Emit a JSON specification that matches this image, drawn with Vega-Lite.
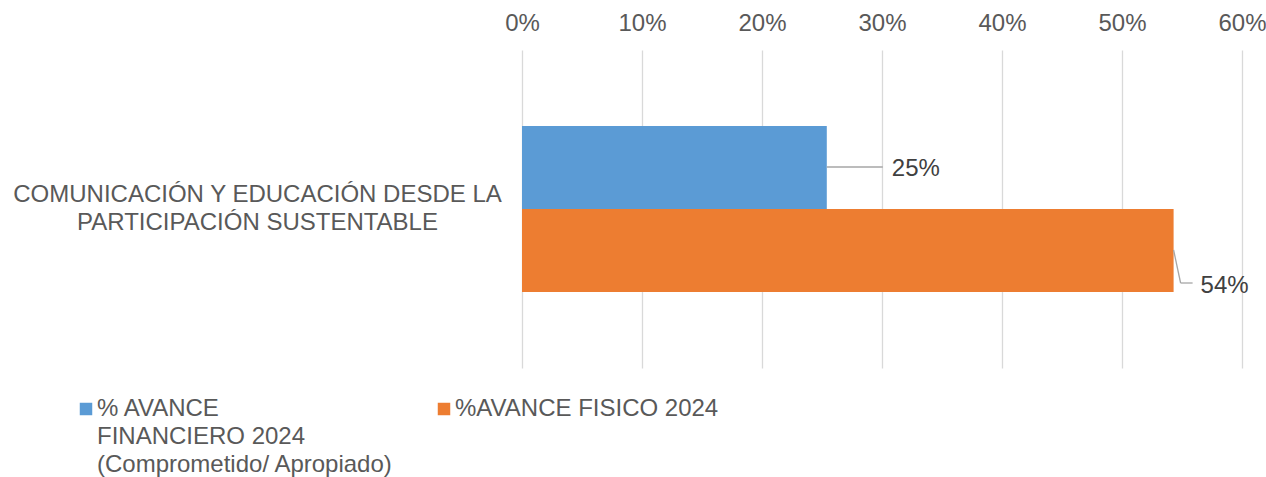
{
  "$schema": "https://vega.github.io/schema/vega-lite/v6.json",
  "width": 720,
  "height": 318,
  "autosize": "none",
  "padding": {"left": 522, "top": 50, "right": 24, "bottom": 109},
  "background": "white",
  "config": {
    "view": {"stroke": null},
    "font": "Liberation Sans",
    "style": {"guide-label": {"lineHeight": 28}}
  },
  "data": {
    "values": [
      {"categoria": "COMUNICACIÓN Y EDUCACIÓN DESDE LA PARTICIPACIÓN SUSTENTABLE", "serie": "% AVANCE FINANCIERO 2024 (Comprometido/ Apropiado)", "valor": 0.254},
      {"categoria": "COMUNICACIÓN Y EDUCACIÓN DESDE LA PARTICIPACIÓN SUSTENTABLE", "serie": "%AVANCE FISICO 2024", "valor": 0.543}
    ]
  },
  "layer": [
    {
      "mark": {"type": "bar"},
      "encoding": {
        "y": {
          "field": "categoria",
          "type": "nominal",
          "scale": {"paddingInner": 0, "paddingOuter": 0.458},
          "axis": {
            "title": null,
            "domain": false,
            "ticks": false,
            "labelFontSize": 24,
            "labelColor": "#595959",
            "labelLimit": 700,
            "labelAlign": "center",
            "labelBaseline": "middle",
            "labelPadding": 265,
            "labelOffset": -14,
            "labelLineHeight": 28,
            "labelExpr": "[slice(datum.label, 0, 33), slice(datum.label, 34)]"
          }
        },
        "yOffset": {
          "field": "serie",
          "sort": ["% AVANCE FINANCIERO 2024 (Comprometido/ Apropiado)", "%AVANCE FISICO 2024"],
          "scale": {"paddingInner": 0, "paddingOuter": 0}
        },
        "x": {
          "field": "valor",
          "type": "quantitative",
          "scale": {"domain": [0, 0.6], "nice": false},
          "axis": {
            "orient": "top",
            "title": null,
            "format": ".0%",
            "values": [0, 0.1, 0.2, 0.3, 0.4, 0.5, 0.6],
            "domain": false,
            "ticks": false,
            "labelFontSize": 24,
            "labelColor": "#595959",
            "labelPadding": 15,
            "labelFlush": false,
            "labelOverlap": false,
            "gridColor": "#D9D9D9",
            "gridWidth": 1.3
          }
        },
        "color": {
          "field": "serie",
          "type": "nominal",
          "scale": {
            "domain": ["% AVANCE FINANCIERO 2024 (Comprometido/ Apropiado)", "%AVANCE FISICO 2024"],
            "range": ["#5B9BD5", "#ED7D31"]
          },
          "legend": {
            "orient": "none",
            "legendX": -448,
            "legendY": 347,
            "direction": "horizontal",
            "title": null,
            "symbolType": "square",
            "symbolSize": 156,
            "symbolStrokeWidth": 0,
            "labelFontSize": 24,
            "labelColor": "#595959",
            "labelLimit": 600,
            "labelOffset": -1,
            "columnPadding": 38,
            "labelExpr": "datum.label == '%AVANCE FISICO 2024' ? [datum.label, '', ''] : ['% AVANCE', 'FINANCIERO 2024', '(Comprometido/ Apropiado)']"
          }
        }
      }
    },
    {
      "transform": [{"filter": "datum.serie == '%AVANCE FISICO 2024'"}],
      "mark": {"type": "rule", "color": "#A6A6A6", "strokeWidth": 1.3, "x2Offset": 7, "yOffset": 41, "y2Offset": 74},
      "encoding": {
        "x": {"field": "valor", "type": "quantitative"},
        "x2": {"field": "valor"},
        "y": {"field": "categoria", "type": "nominal"},
        "y2": {"field": "categoria", "bandPosition": 0.5}
      }
    },
    {
      "transform": [{"filter": "datum.serie == '%AVANCE FISICO 2024'"}],
      "mark": {"type": "rule", "color": "#A6A6A6", "strokeWidth": 1.3, "xOffset": 7, "x2Offset": 19, "yOffset": 74},
      "encoding": {
        "x": {"field": "valor", "type": "quantitative"},
        "x2": {"field": "valor"},
        "y": {"field": "categoria", "type": "nominal"}
      }
    },
    {
      "transform": [{"filter": "datum.serie != '%AVANCE FISICO 2024'"}],
      "mark": {"type": "rule", "color": "#A6A6A6", "strokeWidth": 1.3, "x2Offset": 56, "yOffset": -42},
      "encoding": {
        "x": {"field": "valor", "type": "quantitative"},
        "x2": {"field": "valor"},
        "y": {"field": "categoria", "type": "nominal"}
      }
    },
    {
      "transform": [{"filter": "datum.serie != '%AVANCE FISICO 2024'"}],
      "mark": {"type": "text", "align": "left", "baseline": "middle", "dx": 65, "dy": -40, "fontSize": 24, "color": "#404040"},
      "encoding": {
        "x": {"field": "valor", "type": "quantitative"},
        "y": {"field": "categoria", "type": "nominal"},
        "text": {"field": "valor", "type": "quantitative", "format": ".0%"}
      }
    },
    {
      "transform": [{"filter": "datum.serie == '%AVANCE FISICO 2024'"}],
      "mark": {"type": "text", "align": "left", "baseline": "middle", "dx": 27, "dy": 77, "fontSize": 24, "color": "#404040"},
      "encoding": {
        "x": {"field": "valor", "type": "quantitative"},
        "y": {"field": "categoria", "type": "nominal"},
        "text": {"field": "valor", "type": "quantitative", "format": ".0%"}
      }
    }
  ]
}
